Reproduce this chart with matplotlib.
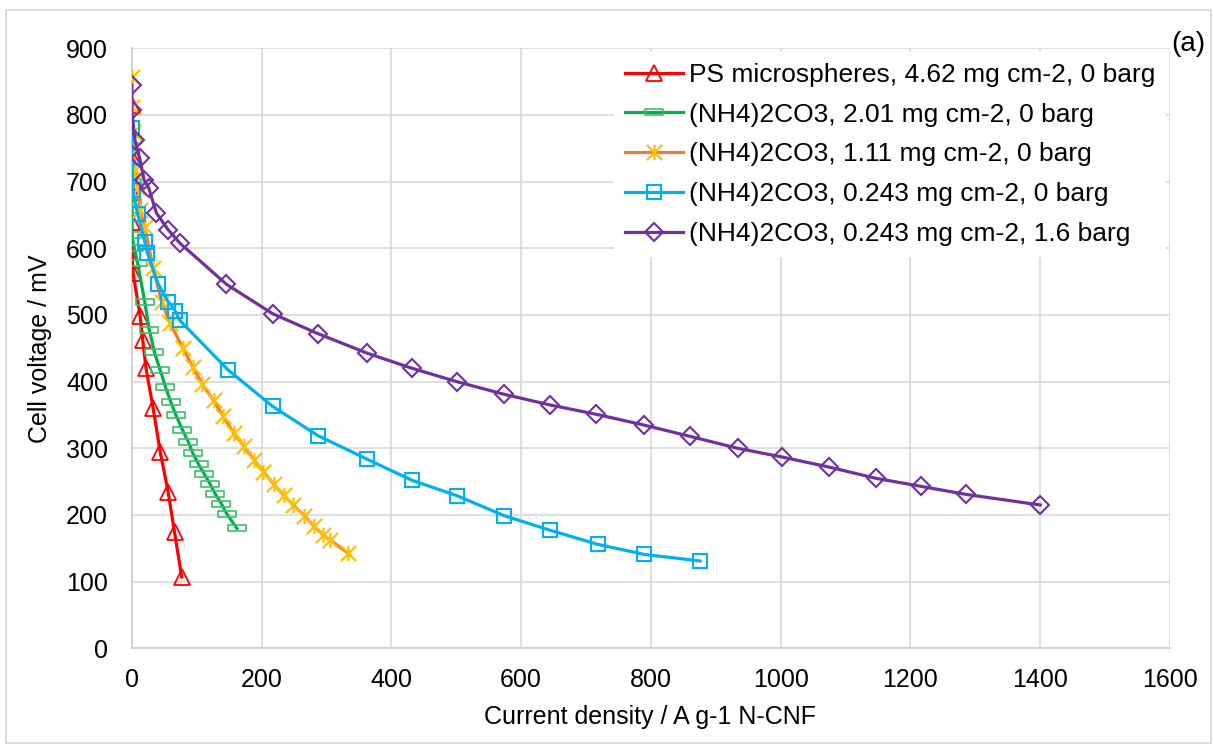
import matplotlib
matplotlib.use('Agg')
import matplotlib.pyplot as plt
from matplotlib.path import Path
from matplotlib.patches import Rectangle

plt.rcParams['font.family'] = ['Liberation Sans', 'DejaVu Sans']

# Polarisation curves, current density (A g-1 N-CNF) vs cell voltage (mV)
ps_x = [0, 0, 0, 0, 1, 2, 13, 17, 22, 33, 44, 56, 66, 77]
ps_y = [815, 737, 685, 640, 583, 563, 498, 462, 420, 360, 294, 235, 174, 107]

c201_x = [0, 0, 0, 0, 0, 4, 9, 20, 27, 35, 44, 52, 60, 68, 78, 87, 94, 103, 112, 121, 129, 138, 147, 162]
c201_y = [762, 700, 670, 657, 620, 600, 578, 520, 478, 444, 417, 392, 370, 350, 328, 310, 293, 276, 261, 246, 231, 217, 201, 180]

c111_x = [0, 0, 2, 2, 5, 10, 13, 20, 33, 46, 59, 79, 94, 109, 126, 141, 157, 173, 188, 203, 219, 234, 249, 266, 281, 295, 305, 333]
c111_y = [857, 812, 775, 747, 717, 690, 657, 632, 570, 520, 488, 450, 422, 396, 372, 348, 323, 303, 283, 265, 246, 230, 215, 199, 183, 170, 163, 143]

c0243_x = [0, 0, 2, 9, 20, 24, 41, 56, 67, 74, 148, 217, 287, 362, 432, 501, 574, 645, 718, 789, 876]
c0243_y = [780, 737, 687, 652, 610, 593, 546, 520, 506, 492, 418, 363, 319, 284, 252, 229, 199, 177, 156, 141, 131]

c0243p_x = [0, 0, 5, 12, 19, 26, 38, 56, 74, 146, 217, 287, 362, 432, 501, 574, 645, 716, 789, 860, 934, 1002, 1074, 1147, 1216, 1285, 1400]
c0243p_y = [845, 807, 762, 736, 703, 691, 653, 628, 608, 546, 502, 472, 443, 420, 400, 381, 365, 351, 335, 318, 300, 287, 272, 255, 243, 231, 215]

labels = ['PS microspheres, 4.62 mg cm-2, 0 barg',
          '(NH4)2CO3, 2.01 mg cm-2, 0 barg',
          '(NH4)2CO3, 1.11 mg cm-2, 0 barg',
          '(NH4)2CO3, 0.243 mg cm-2, 0 barg',
          '(NH4)2CO3, 0.243 mg cm-2, 1.6 barg']

# Excel-like marker shapes
dash_marker = Path([(-1, -0.28), (1, -0.28), (1, 0.28), (-1, 0.28), (-1, -0.28)],
                   [Path.MOVETO, Path.LINETO, Path.LINETO, Path.LINETO, Path.CLOSEPOLY])
star_marker = Path([(-1, -1), (1, 1), (-1, 1), (1, -1), (0, -1), (0, 1)],
                   [Path.MOVETO, Path.LINETO, Path.MOVETO, Path.LINETO, Path.MOVETO, Path.LINETO])

fig = plt.figure(figsize=(12.13, 7.49), dpi=100)
ax = fig.add_axes([0.1086, 0.1344, 0.8560, 0.8011])

lw = 2.3
ax.plot(ps_x, ps_y, color='#FF0000', lw=lw, marker='^', markersize=12,
        markerfacecolor='none', markeredgecolor='#FF0000', markeredgewidth=1.3, label=labels[0], zorder=3)
ax.plot(c201_x, c201_y, color='#00B050', lw=lw, marker=dash_marker, markersize=13,
        markerfacecolor='none', markeredgecolor='#3CBF6A', markeredgewidth=1.2, label=labels[1], zorder=3)
ax.plot(c111_x, c111_y, color='#ED7D31', lw=lw, marker=star_marker, markersize=11,
        markerfacecolor='none', markeredgecolor='#FFC000', markeredgewidth=1.6, label=labels[2], zorder=3)
ax.plot(c0243_x, c0243_y, color='#00B0F0', lw=lw, marker='s', markersize=10.5,
        markerfacecolor='none', markeredgecolor='#00B0F0', markeredgewidth=1.5, label=labels[3], zorder=3)
ax.plot(c0243p_x, c0243p_y, color='#7030A0', lw=lw, marker='D', markersize=9,
        markerfacecolor='none', markeredgecolor='#7030A0', markeredgewidth=1.5, label=labels[4], zorder=3)

ax.set_xlim(0, 1600)
ax.set_ylim(0, 900)
ax.set_xticks(range(0, 1601, 200))
ax.set_yticks(range(0, 901, 100))
ax.tick_params(length=0, labelsize=18, pad=14)
ax.tick_params(axis='y', pad=17)
ax.grid(True, color='#D9D9D9', lw=1.2)
ax.set_axisbelow(True)
for side in ['top', 'right']:
    ax.spines[side].set_visible(False)
for side in ['left', 'bottom']:
    ax.spines[side].set_color('#D0D0D0')
    ax.spines[side].set_linewidth(1.3)

ax.set_xlabel('Current density / A g-1 N-CNF', fontsize=18)
ax.set_ylabel('Cell voltage / mV', fontsize=18)
ax.xaxis.set_label_coords(0.499, -0.0945)
ax.yaxis.set_label_coords(-0.0768, 0.5)

leg = ax.legend(loc='upper right', bbox_to_anchor=(1.0, 1.0), fontsize=19, frameon=True,
                handlelength=2.2, handletextpad=0.25, labelspacing=0.6, borderaxespad=0.15)
leg.get_frame().set_facecolor('white')
leg.get_frame().set_edgecolor('none')
leg.get_frame().set_alpha(1)

fig.text(0.9794, 0.9413, '(a)', fontsize=20, ha='center', va='center')
fig.patches.append(Rectangle((6 / 1213, 6 / 749), 1205 / 1213, 733 / 749, transform=fig.transFigure,
                             fill=False, edgecolor='#D9D9D9', lw=1.3))

fig.savefig('out.png', dpi=100)
